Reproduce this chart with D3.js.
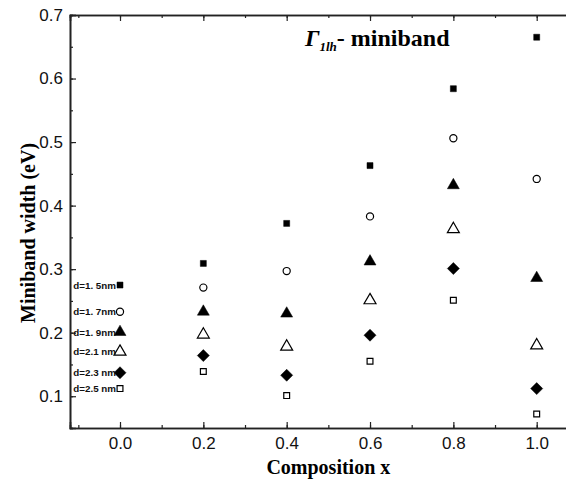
<!DOCTYPE html>
<html>
<head>
<meta charset="utf-8">
<script src="https://cdn.jsdelivr.net/npm/d3@7"></script>
<style>
  body { margin: 0; background: white; }
  svg { display: block; }
</style>
</head>
<body>
<div id="chart"></div>
<script>
const compositions = [0.0, 0.2, 0.4, 0.6, 0.8, 1.0];
const seriesNames = ['d=1. 5nm', 'd=1. 7nm', 'd=1. 9nm', 'd=2.1 nm', 'd=2.3 nm', 'd=2.5 nm'];
const d15 = [0.275, 0.309, 0.372, 0.463, 0.584, 0.665];
const d17 = [0.233, 0.271, 0.297, 0.383, 0.506, 0.442];
const d19 = [0.201, 0.233, 0.230, 0.312, 0.432, 0.286];
const d21 = [0.170, 0.197, 0.178, 0.251, 0.363, 0.180];
const d23 = [0.137, 0.164, 0.133, 0.196, 0.301, 0.112];
const d25 = [0.112, 0.139, 0.101, 0.155, 0.251, 0.072];
const xTicks = [0.0, 0.2, 0.4, 0.6, 0.8, 1.0];
const yTicks = [0.1, 0.2, 0.3, 0.4, 0.5, 0.6, 0.7];

const width = 566;
const height = 483;

const x = d3.scaleLinear().domain([-0.12, 1.12]).range([70, 586.7]);
const y = d3.scaleLinear().domain([0.05, 0.7]).range([428, 15]);

const svg = d3.select('#chart')
    .append('svg')
    .attr('width', width)
    .attr('height', height)
    .style('background-color', 'white');

// marker styles, one per series
const markers = [
    { type: d3.symbolSquare, size: 36, fill: '#000', rot: 0 },
    { type: d3.symbolCircle, size: 40, fill: 'none', rot: 0 },
    { type: d3.symbolTriangle, size: 62, fill: '#000', rot: 0 },
    { type: d3.symbolTriangle, size: 62, fill: 'none', rot: 0 },
    { type: d3.symbolSquare, size: 72, fill: '#000', rot: 45 },
    { type: d3.symbolSquare, size: 34, fill: 'none', rot: 0 }
];

const allSeries = [d15, d17, d19, d21, d23, d25];

// axes (ticks point inward)
const axisColor = '#222';
const minorX = d3.range(-0.1, 1.11, 0.1).map(v => +v.toFixed(2));
const minorY = d3.range(0.05, 0.71, 0.05).map(v => +v.toFixed(2));

const bottomAxis = svg.append('g').attr('transform', `translate(0,${y(0.05)})`)
    .call(d3.axisBottom(x).tickValues(minorX).tickSize(-3).tickFormat(''));
bottomAxis.append('g')
    .call(d3.axisBottom(x).tickValues(xTicks).tickSize(-6).tickPadding(9).tickFormat(d3.format('.1f')));

const topAxis = svg.append('g').attr('transform', `translate(0,${y(0.7)})`)
    .call(d3.axisTop(x).tickValues(minorX).tickSize(-3).tickFormat(''));
topAxis.append('g')
    .call(d3.axisTop(x).tickValues(xTicks).tickSize(-6).tickFormat(''));

const leftAxis = svg.append('g').attr('transform', `translate(${x(-0.12)},0)`)
    .call(d3.axisLeft(y).tickValues(minorY).tickSize(-3).tickFormat(''));
leftAxis.append('g')
    .call(d3.axisLeft(y).tickValues(yTicks).tickSize(-6).tickPadding(7).tickFormat(d3.format('.1f')));

svg.selectAll('.domain')
    .attr('stroke', axisColor)
    .attr('stroke-width', 1.6);
svg.selectAll('.tick line')
    .attr('stroke', axisColor)
    .attr('stroke-width', 1.2);
svg.selectAll('.tick text')
    .style('font-family', 'Arial, "Liberation Sans", sans-serif')
    .style('font-size', '17px')
    .attr('fill', '#111');

// data points
allSeries.forEach((vals, i) => {
    const m = markers[i];
    svg.append('g')
        .selectAll('path')
        .data(vals)
        .join('path')
        .attr('d', d3.symbol().type(m.type).size(m.size))
        .attr('transform', (d, j) => `translate(${x(compositions[j])},${y(d)}) rotate(${m.rot})`)
        .attr('fill', m.fill === 'none' ? 'white' : m.fill)
        .attr('stroke', '#000')
        .attr('stroke-width', m.fill === 'none' ? 1.2 : 0.5);
});

// labels next to the x=0 points
svg.append('g')
    .selectAll('text')
    .data(seriesNames)
    .join('text')
    .attr('x', x(0) - 4)
    .attr('y', (d, i) => y(allSeries[i][0]) + 3.5)
    .attr('text-anchor', 'end')
    .style('font-family', 'Arial, "Liberation Sans", sans-serif')
    .style('font-size', '9.8px')
    .style('font-weight', 'bold')
    .attr('fill', '#111')
    .text(d => d);

// title
const title = svg.append('text')
    .attr('x', 305)
    .attr('y', 46)
    .style('font-family', '"Times New Roman", "Liberation Serif", serif')
    .style('font-weight', 'bold')
    .style('font-size', '24px');
title.append('tspan').style('font-style', 'italic').text('Γ');
title.append('tspan').style('font-style', 'italic').style('font-size', '13px').attr('dy', 5).text('1lh');
title.append('tspan').attr('dy', -5).text('- miniband');

// axis titles
svg.append('text')
    .attr('x', x(0.5))
    .attr('y', 474)
    .attr('text-anchor', 'middle')
    .style('font-family', '"Times New Roman", "Liberation Serif", serif')
    .style('font-weight', 'bold')
    .style('font-size', '20px')
    .text('Composition x');

svg.append('text')
    .attr('transform', `translate(35,${y(0.357)}) rotate(-90)`)
    .attr('text-anchor', 'middle')
    .style('font-family', '"Times New Roman", "Liberation Serif", serif')
    .style('font-weight', 'bold')
    .style('font-size', '20px')
    .text('Miniband width (eV)');
</script>
</body>
</html>
